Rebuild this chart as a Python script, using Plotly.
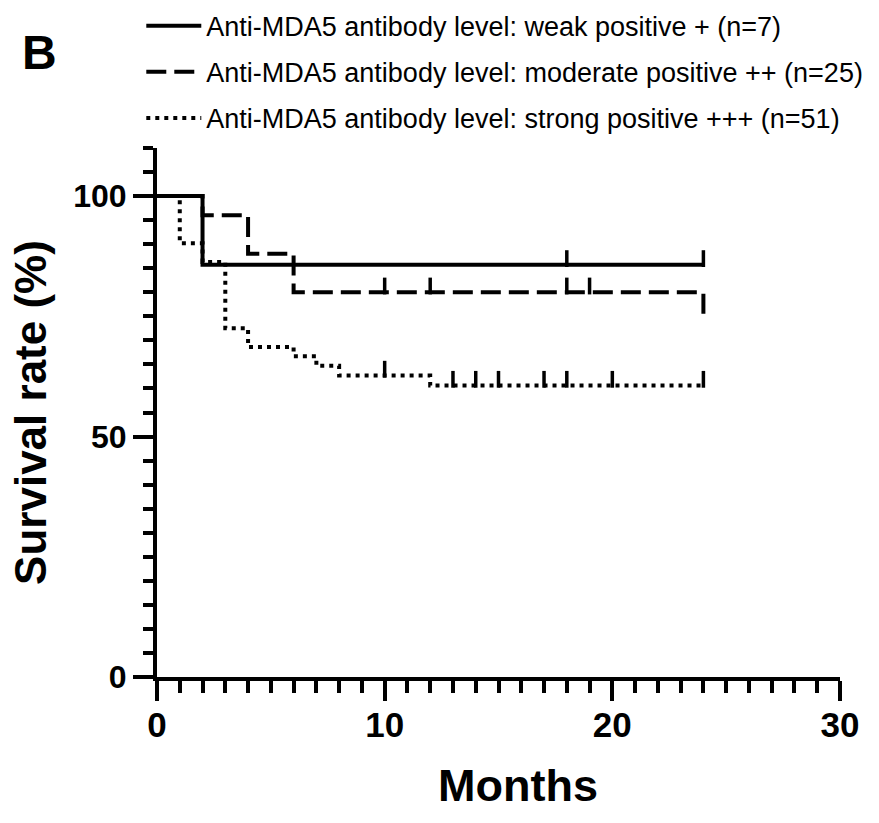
import plotly.graph_objects as go

# ---- data ----
weak_t = [0, 2, 24]
weak_s = [100, 85.7, 85.7]
weak_cens_t = [18, 24]

mod_t = [0, 2, 4, 6, 24]
mod_s = [100, 96, 88, 80, 74.3]
mod_cens_t = [10, 12, 18, 19]
mod_cens_s = [80, 80, 80, 80]

strong_t = [0, 1, 2, 3, 4, 6, 7, 8, 12, 24]
strong_s = [100, 90.2, 86.3, 72.5, 68.6, 66.7, 64.7, 62.7, 60.6, 60.6]
strong_cens_t = [10, 13, 14, 15, 17, 18, 20, 24]
strong_cens_s = [62.7, 60.6, 60.6, 60.6, 60.6, 60.6, 60.6, 60.6]

names = [
    "Anti-MDA5 antibody level: weak positive + (n=7)",
    "Anti-MDA5 antibody level: moderate positive ++ (n=25)",
    "Anti-MDA5 antibody level: strong positive +++ (n=51)",
]

x_ticks = [0, 10, 20, 30]
y_ticks = [0, 50, 100]

FONT = "Liberation Sans, Arial, sans-serif"
LW = 4
CENS_UP = 1.3  # censor tick drawn just above the curve (in % units)

fig = go.Figure()

series = [
    (weak_t, weak_s, weak_cens_t, [weak_s[-1]] * len(weak_cens_t), "solid"),
    (mod_t, mod_s, mod_cens_t, mod_cens_s, "20px,8px"),
    (strong_t, strong_s, strong_cens_t, strong_cens_s, "4px,5px"),
]

for i, ((t, s, ct, cs, dash), nm) in enumerate(zip(series, names)):
    fig.add_trace(go.Scatter(
        x=t, y=s, mode="lines", name=nm, legendgroup=f"g{i}",
        line=dict(color="black", width=LW, dash=dash, shape="hv"),
        cliponaxis=False,
    ))
    fig.add_trace(go.Scatter(
        x=ct, y=[v + CENS_UP for v in cs], mode="markers", showlegend=False,
        legendgroup=f"g{i}",
        marker=dict(symbol="line-ns", size=12, line=dict(color="black", width=3.5)),
        cliponaxis=False, hoverinfo="skip",
    ))

fig.update_layout(
    width=879, height=823,
    margin=dict(l=157, r=39, t=148, b=146, autoexpand=False),
    paper_bgcolor="white", plot_bgcolor="white",
    font=dict(family=FONT, color="black"),
    showlegend=True,
    legend=dict(
        x=-0.023, y=0.998, xanchor="left", yanchor="top",
        yref="container",
        font=dict(size=27, family=FONT, color="black"),
        bgcolor="rgba(0,0,0,0)", itemwidth=55, tracegroupgap=8,
    ),
    annotations=[
        dict(
            text="<b>B</b>", xref="paper", yref="paper", x=-0.2, y=1.18,
            xanchor="left", yanchor="middle", showarrow=False,
            font=dict(size=48, family=FONT, color="black"),
        ),
        dict(
            text="<b>Months</b>", xref="paper", yref="paper", x=0.529, y=-0.205,
            xanchor="center", yanchor="middle", showarrow=False,
            font=dict(size=45, family=FONT, color="black"),
        ),
    ],
)

fig.update_xaxes(
    range=[0, 30], tickvals=x_ticks, ticktext=[str(v) for v in x_ticks],
    showgrid=False, zeroline=False,
    showline=True, linewidth=LW, linecolor="black",
    ticks="outside", ticklen=20, tickwidth=LW, tickcolor="black",
    minor=dict(dtick=1, ticks="outside", ticklen=12, tickwidth=LW, tickcolor="black"),
    tickfont=dict(size=35, family=FONT, color="black", weight="bold"),
    ticklabelstandoff=-6,
)
fig.update_yaxes(
    range=[0, 110], tickvals=y_ticks, ticktext=[str(v) for v in y_ticks],
    showgrid=False, zeroline=False,
    showline=True, linewidth=LW, linecolor="black",
    ticks="outside", ticklen=20, tickwidth=LW, tickcolor="black",
    minor=dict(dtick=5, ticks="outside", ticklen=10, tickwidth=LW, tickcolor="black"),
    tickfont=dict(size=32, family=FONT, color="black", weight="bold"),
    title=dict(text="<b>Survival rate (%)</b>", font=dict(size=44, family=FONT, color="black"), standoff=14),
)

fig.write_html("out.html")
